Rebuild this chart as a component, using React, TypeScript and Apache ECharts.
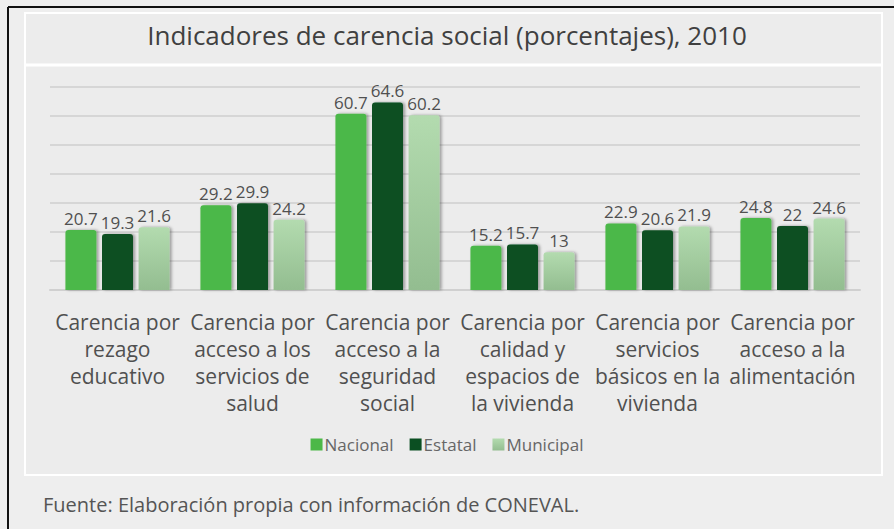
import React, { useEffect, useRef } from "react";
import * as echarts from "echarts";

const categories = [
  "Carencia por\nrezago\neducativo",
  "Carencia por\nacceso a los\nservicios de\nsalud",
  "Carencia por\nacceso a la\nseguridad\nsocial",
  "Carencia por\ncalidad y\nespacios de\nla vivienda",
  "Carencia por\nservicios\nbásicos en la\nvivienda",
  "Carencia por\nacceso a la\nalimentación",
];
const nacional = [20.7, 29.2, 60.7, 15.2, 22.9, 24.8];
const estatal = [19.3, 29.9, 64.6, 15.7, 20.6, 22];
const municipal = [21.6, 24.2, 60.2, 13, 21.9, 24.6];
const seriesNames = ["Nacional", "Estatal", "Municipal"];
const titleText = "Indicadores de carencia social (porcentajes), 2010";
const sourceText = "Fuente: Elaboración propia con información de CONEVAL.";

const FONT = "'Open Sans', 'Noto Sans', sans-serif";

export default function App() {
  const ref = useRef<HTMLDivElement>(null);
  useEffect(() => {
    if (!ref.current) return;
    const chart = echarts.init(ref.current, undefined, { renderer: "svg" });
    const shadow = {
      shadowColor: "rgba(0,0,0,0.35)",
      shadowBlur: 3,
      shadowOffsetX: 2,
      shadowOffsetY: 0,
    };
    const colors = [
      "#4cb848",
      "#0b4f22",
      new echarts.graphic.LinearGradient(0, 0, 0, 1, [
        { offset: 0, color: "#b3dbaf" },
        { offset: 1, color: "#93bd90" },
      ]),
    ];
    const data = [nacional, estatal, municipal];
    chart.setOption({
      animation: false,
      backgroundColor: "#eeeeee",
      graphic: [
        { type: "rect", z: -10, shape: { x: 25, y: 13, width: 857, height: 462 }, style: { fill: "#ececec", stroke: "#ffffff", lineWidth: 2 } },
        { type: "line", z: -9, shape: { x1: 25, y1: 65, x2: 882, y2: 65 }, style: { stroke: "#ffffff", lineWidth: 3 } },
        { type: "line", z: 10, shape: { x1: 8, y1: 7, x2: 894, y2: 7 }, style: { stroke: "#111", lineWidth: 2 } },
        { type: "line", z: 10, shape: { x1: 8, y1: 7, x2: 8, y2: 529 }, style: { stroke: "#111", lineWidth: 2 } },
        {
          type: "text",
          left: "center",
          top: 22,
          style: { text: titleText, font: `26px ${FONT}`, fill: "#404040" },
        },
        {
          type: "text",
          left: 43,
          top: 494,
          style: { text: sourceText, font: `20px ${FONT}`, fill: "#555555" },
        },
      ],
      legend: {
        data: seriesNames,
        top: 431,
        left: "center",
        itemWidth: 12,
        itemHeight: 12,
        itemGap: 16,
        icon: "rect",
        textStyle: { fontFamily: FONT, fontSize: 17, color: "#666", padding: [0, 0, 0, -3] },
        itemStyle: { shadowBlur: 0, shadowOffsetX: 0 },
      },
      grid: { left: 50, right: 34, top: 86.7, bottom: 239, containLabel: false },
      xAxis: {
        type: "category",
        data: categories,
        axisTick: { show: false },
        axisLine: { show: true, lineStyle: { color: "#d0d0d0", width: 2 } },
        axisLabel: {
          interval: 0,
          margin: 18,
          fontFamily: FONT,
          fontSize: 21,
          lineHeight: 27,
          color: "#505050",
        },
      },
      yAxis: {
        type: "value",
        min: 0,
        max: 70,
        interval: 10,
        axisLabel: { show: false },
        axisLine: { show: false },
        axisTick: { show: false },
        splitLine: { lineStyle: { color: "#d6d6d6", width: 2 } },
      },
      series: seriesNames.map((name, i) => ({
        name,
        type: "bar",
        data: data[i],
        barWidth: 31,
        barGap: "18%",
        itemStyle: { color: colors[i], borderRadius: [3, 3, 0, 0], ...shadow },
        label: {
          show: true,
          position: "top",
          distance: 3,
          fontFamily: FONT,
          fontSize: 17,
          color: "#505050",
        },
      })),
    });
    return () => chart.dispose();
  }, []);
  return (
    <div
      ref={ref}
      style={{ position: "absolute", left: 0, top: 0, width: 894, height: 529 }}
    />
  );
}
